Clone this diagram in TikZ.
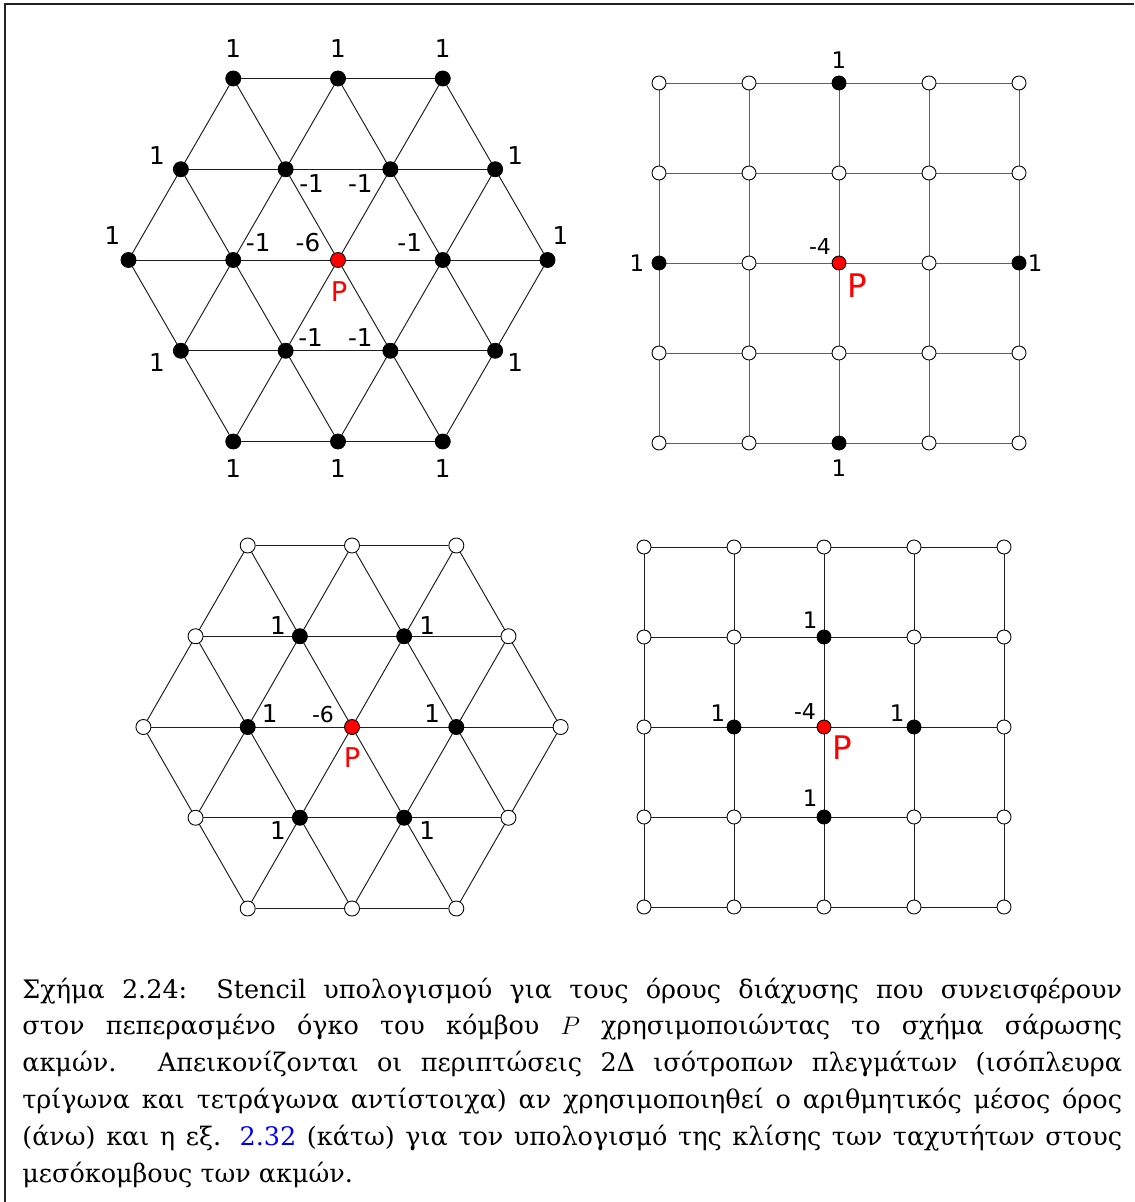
\documentclass[tikz,border=0pt]{standalone}
\usepackage{fontspec}
\usepackage{xcolor}
\usepackage{tikz}
\usetikzlibrary{positioning, calc, backgrounds}
\newfontfamily\lblfont{DejaVu Sans}
\newfontfamily\capfont{DejaVu Serif}
\definecolor{framegray}{RGB}{34, 34, 34}
\definecolor{meshdark}{RGB}{30, 30, 30}
\definecolor{meshgray}{RGB}{95, 95, 95}
\definecolor{pred}{RGB}{255, 0, 0}
\definecolor{linkblue}{RGB}{0, 0, 255}

\begin{document}
\begin{tikzpicture}[
    x=0.02cm, y=-0.02cm,
    free/.style={circle, draw=black, fill=white, line width=0.5pt, minimum size=0.3cm, inner sep=0pt},
    nbr/.style={free, fill=black},
    ctr/.style={free, fill=pred},
    sq/.style={minimum size=0.28cm},
    meshline/.style={draw=meshdark, line width=0.55pt},
    numlbl/.style={font=\lblfont\fontsize{14}{16}\selectfont, inner sep=0pt},
    sqlbl/.style={numlbl, font=\lblfont\fontsize{13}{15}\selectfont},
    smalllbl/.style={numlbl, font=\lblfont\fontsize{12.5}{14}\selectfont},
    plbl/.style={font=\lblfont\fontsize{15.5}{17}\selectfont, text=pred, inner sep=0pt},
    sqplbl/.style={plbl, font=\lblfont\fontsize{18.5}{20}\selectfont},
    framebox/.style={draw=framegray, line width=1.3pt},
    capbox/.style={inner sep=0pt, anchor=base west}
]
    \useasboundingbox (0,0) rectangle (1134,1202);
    \draw[framebox] (5,1210) -- (5,4) -- (1134,4);

    % top left: triangles, arithmetic mean
    \foreach \J in {0,...,4}{
        \pgfmathtruncatemacro\d{abs(\J-2)}
        \pgfmathtruncatemacro\s{\d+2}
        \pgfmathtruncatemacro\e{8-\d}
        \foreach \U in {\d,\s,...,\e}{
            \pgfmathtruncatemacro\c{(\U==4 && \J==2) ? 2 : 1}
            \ifcase\c\def\kind{free}\or\def\kind{nbr}\or\def\kind{ctr}\fi
            \node[\kind] (a-\U-\J) at ({338+104.75*(\U-4)/2},{260+90.75*(\J-2)}) {};
        }
    }
    \foreach \n/\dx/\dy/\t in {2-0/0/-30/1, 4-0/0/-30/1, 6-0/0/-30/1, 1-1/-24/-14/1, 7-1/20/-14/1,
        0-2/-16/-24/1, 8-2/13/-24/1, 1-3/-24/12/1, 7-3/20/12/1, 2-4/0/27/1, 4-4/0/27/1, 6-4/0/27/1,
        3-1/26/14/-1, 5-1/-30/14/-1, 2-2/25/-17/-1, 6-2/-33/-17/-1, 4-2/-30/-17/-6, 3-3/25/-13/-1, 5-3/-30/-13/-1}
        \node[numlbl] (a-t-\n) at ($(a-\n)+(\dx,\dy)$) {\t};
    \node[plbl] (a-p) at ($(a-4-2)+(1,32)$) {P};

    % top right: squares, arithmetic mean
    \foreach \i in {0,...,4}{
        \foreach \j in {0,...,4}{
            \pgfmathtruncatemacro\c{(\i==2 && \j==2) ? 2 : (((abs(\i-2)+abs(\j-2)==2) && (\i==2 || \j==2)) ? 1 : 0)}
            \ifcase\c\def\kind{free}\or\def\kind{nbr}\or\def\kind{ctr}\fi
            \node[\kind, sq] (b-\i-\j) at ({659+90*\i},{83+90*\j}) {};
        }
    }
    \foreach \n/\dx/\dy in {2-0/0/-23, 0-2/-22/0, 4-2/16/0, 2-4/0/25}
        \node[sqlbl] (b-t-\n) at ($(b-\n)+(\dx,\dy)$) {1};
    \node[smalllbl] (b-t-2-2) at ($(b-2-2)+(-19,-17)$) {-4};
    \node[sqplbl] (b-p) at ($(b-2-2)+(18,23)$) {P};

    % bottom left: triangles, eq. 2.32
    \foreach \J in {0,...,4}{
        \pgfmathtruncatemacro\d{abs(\J-2)}
        \pgfmathtruncatemacro\s{\d+2}
        \pgfmathtruncatemacro\e{8-\d}
        \foreach \U in {\d,\s,...,\e}{
            \pgfmathtruncatemacro\c{(\U==4 && \J==2) ? 2 : (((abs(\U-4)==1 && abs(\J-2)==1) || (abs(\U-4)==2 && \J==2)) ? 1 : 0)}
            \ifcase\c\def\kind{free}\or\def\kind{nbr}\or\def\kind{ctr}\fi
            \node[\kind] (c-\U-\J) at ({352+104.3*(\U-4)/2},{727+90.75*(\J-2)}) {};
        }
    }
    \foreach \n/\dx/\dy in {3-1/-22/-11, 5-1/23/-11, 2-2/22/-13, 6-2/-24/-13, 3-3/-22/13, 5-3/23/13}
        \node[numlbl] (c-t-\n) at ($(c-\n)+(\dx,\dy)$) {1};
    \node[smalllbl] (c-t-4-2) at ($(c-4-2)+(-29,-13)$) {-6};
    \node[plbl] (c-p) at ($(c-4-2)+(0,31)$) {P};

    % bottom right: squares, eq. 2.32
    \foreach \i in {0,...,4}{
        \foreach \j in {0,...,4}{
            \pgfmathtruncatemacro\c{(\i==2 && \j==2) ? 2 : ((abs(\i-2)+abs(\j-2)==1) ? 1 : 0)}
            \ifcase\c\def\kind{free}\or\def\kind{nbr}\or\def\kind{ctr}\fi
            \node[\kind, sq] (d-\i-\j) at ({644+90*\i},{547+90*\j}) {};
        }
    }
    \foreach \n/\dx/\dy in {2-1/-14/-17, 1-2/-16/-14, 3-2/-17/-14, 2-3/-14/-19}
        \node[sqlbl] (d-t-\n) at ($(d-\n)+(\dx,\dy)$) {1};
    \node[smalllbl] (d-t-2-2) at ($(d-2-2)+(-19,-16)$) {-4};
    \node[sqplbl] (d-p) at ($(d-2-2)+(18,21)$) {P};

    % mesh lines behind the nodes
    \begin{scope}[on background layer]
        \foreach \h in {a,c}{
            \foreach \p/\q in {2-0/6-0, 1-1/7-1, 0-2/8-2, 1-3/7-3, 2-4/6-4,
                0-2/2-4, 1-1/4-4, 2-0/6-4, 4-0/7-3, 6-0/8-2,
                2-0/0-2, 4-0/1-3, 6-0/2-4, 7-1/4-4, 8-2/6-4}
                \draw[meshline] (\h-\p) -- (\h-\q);
        }
        \foreach \k in {0,...,4}{
            \draw[meshline, draw=meshgray] (b-0-\k) -- (b-4-\k);
            \draw[meshline, draw=meshgray] (b-\k-0) -- (b-\k-4);
            \draw[meshline] (d-0-\k) -- (d-4-\k);
            \draw[meshline] (d-\k-0) -- (d-\k-4);
        }
    \end{scope}

    \node[capbox] (cap) at (22,998) {\begin{minipage}[t]{22cm}
        \capfont\fontsize{14.5}{21}\selectfont\hyphenpenalty=10000
        Σχήμα 2.24: Stencil υπολογισμού για τους όρους διάχυσης που συνεισφέρουν\linebreak
        στον πεπερασμένο όγκο του κόμβου $P$ χρησιμοποιώντας το σχήμα σάρωσης\linebreak
        ακμών.  Απεικονίζονται οι περιπτώσεις 2Δ ισότροπων πλεγμάτων (ισόπλευρα\linebreak
        τρίγωνα και τετράγωνα αντίστοιχα) αν χρησιμοποιηθεί ο αριθμητικός μέσος όρος\linebreak
        (άνω) και η εξ. \textcolor{linkblue}{2.32} (κάτω) για τον υπολογισμό της κλίσης των ταχυτήτων στους\linebreak
        μεσόκομβους των ακμών.
    \end{minipage}};
\end{tikzpicture}
\end{document}
